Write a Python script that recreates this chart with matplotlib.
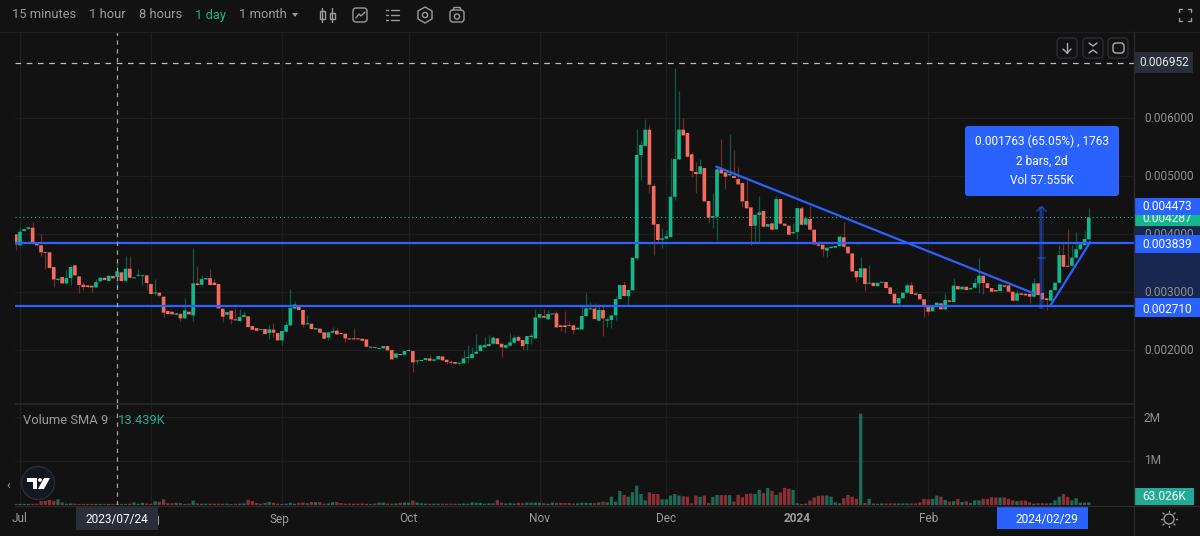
import matplotlib
matplotlib.use("Agg")
import matplotlib.pyplot as plt
from matplotlib.patches import Rectangle, FancyBboxPatch, Circle, Polygon

plt.rcParams['font.family'] = ['Roboto', 'DejaVu Sans']

# Daily candles, index 0 is 2023/06/30, prices in millionths
opens = [3994,3805,4052,4086,4109,3845,3805,3690,3684,3431,3207,3259,3149,3241,3460,3270,3126,3115,3109,3080,
    3184,3247,3190,3276,3259,3339,3195,3402,3236,3282,3276,3287,3138,2977,2989,2920,2672,2661,2609,2626,
    2546,2661,2598,3149,3126,3218,3241,3161,3138,2713,2609,2678,2529,2500,2569,2581,2414,2379,2345,2362,
    2293,2351,2293,2167,2316,2425,2713,2770,2690,2443,2454,2356,2368,2305,2213,2299,2333,2293,2282,2201,
    2201,2201,2195,2184,2040,2052,2017,2029,2069,2000,1868,1931,1920,1983,1983,1805,1810,1828,1856,1816,
    1839,1891,1833,1793,1793,1764,1770,1862,1862,1937,1983,2046,2069,2109,2201,2109,2040,2075,2126,2224,
    2172,2103,2224,2201,2558,2586,2529,2615,2632,2425,2425,2425,2425,2356,2356,2586,2701,2713,2506,2690,
    2506,2517,2598,2879,3121,2931,3029,3581,5362,5517,5799,4828,4172,3902,3920,3948,4644,5287,5799,5741,
    5374,5069,5034,5138,4569,4282,4299,5115,5063,5011,5000,4948,4879,4569,4460,4144,4328,4397,4127,4184,
    4081,4603,4178,4144,4011,4034,4443,4161,4259,4075,3822,3816,3713,3759,3765,3793,3943,3782,3667,3362,
    3254,3409,3144,3161,3103,3161,3172,3080,2971,2805,2891,2989,3115,2977,2966,2874,2747,2667,2747,2805,
    2701,2856,2828,3103,3046,3092,3046,3075,3150,3282,3150,3069,3034,3017,3115,3115,3006,2851,2977,2971,
    2966,2920,3150,2983,2891,2851,3034,3161,3638,3454,3454,3592,3736,3810,3908]
highs = [3994,4126,4086,4115,4207,3845,4000,3690,3684,3431,3230,3259,3379,3466,3466,3270,3167,3115,3109,3218,
    3247,3247,3282,3276,3494,3339,3621,3621,3253,3402,3293,3287,3138,3224,2989,2920,2672,2661,2632,2626,
    2897,2661,3753,3454,3293,3241,3391,3224,3138,2713,2655,2678,2724,2713,2678,2581,2414,2379,2362,2362,
    2431,2460,2293,2328,2500,3052,2851,2770,2690,2609,2454,2379,2368,2305,2305,2402,2374,2293,2282,2201,
    2385,2201,2195,2184,2058,2052,2035,2069,2069,2000,1943,1931,1983,2000,1983,1822,1828,1862,1914,1839,
    1897,1891,1833,1822,1793,1782,2000,2081,2046,2270,2081,2218,2253,2247,2201,2109,2086,2287,2255,2259,
    2172,2241,2299,2707,2621,2701,2690,2632,2678,2425,2678,2506,2425,2385,2776,2977,2828,2805,2787,2793,
    2575,2598,2931,3121,3196,3035,3592,5810,5621,5977,5879,4874,4172,4109,4069,5305,6856,6466,5994,5741,
    5420,5247,5293,5138,4569,4701,5161,5638,5063,5724,5448,5161,4879,4931,4460,4333,4655,4397,4172,4184,
    4661,4603,4178,4144,4184,4448,4489,4299,4489,4075,3822,3816,3765,3782,3793,3989,4201,3782,3667,3362,
    3598,3409,3466,3161,3161,3178,3172,3080,2971,2897,2989,3155,3167,2977,2966,2874,2747,2764,2816,2805,
    2977,2856,3236,3103,3092,3092,3069,3236,3580,3282,3150,3069,3034,3132,3115,3115,3006,3034,2977,2971,
    2966,3236,3150,2983,2891,3034,3161,3810,3839,4086,3810,4040,3868,4069,4443]
lows = [3724,3805,4052,4086,3833,3805,3621,3391,3414,3080,3207,3149,3138,3121,3287,2989,3035,3086,3006,3080,
    3184,3207,3190,3236,3080,3190,3178,3247,3236,3282,3121,3035,2966,2948,2937,2575,2621,2615,2609,2494,
    2546,2615,2506,3121,3126,3218,3121,3121,2718,2489,2609,2443,2512,2500,2569,2397,2351,2333,2345,2276,
    2190,2230,2167,2086,2316,2425,2713,2690,2391,2443,2362,2356,2299,2195,2172,2299,2270,2276,2144,2184,
    2184,2184,2161,2058,2040,2040,2017,2029,1994,1839,1868,1914,1920,1983,1627,1759,1810,1828,1816,1816,
    1839,1822,1759,1759,1764,1736,1770,1782,1862,1937,1983,2046,2069,2109,2103,1874,2040,2075,2126,2161,
    2000,2000,2103,2201,2558,2558,2529,2615,2391,2333,2287,2414,2276,2356,2356,2586,2701,2534,2506,2241,
    2391,2374,2517,2879,2931,2759,3029,3552,4931,5517,4701,3638,3851,3753,3920,3948,4586,5287,5701,5333,
    4989,4713,5034,4563,4195,4098,3897,5046,4776,5011,4966,4856,4471,4443,3805,3868,3868,4127,4127,4075,
    4081,4178,4144,3989,4011,3908,4161,4161,4075,3822,3799,3627,3609,3759,3765,3793,3782,3667,3356,3178,
    3254,3023,3144,3103,3103,3161,3069,2966,2805,2736,2891,2989,2966,2954,2874,2563,2604,2667,2747,2701,
    2690,2833,2828,3046,3046,3035,3046,3075,2989,2966,3069,3006,3011,3017,3092,3006,2851,2851,2954,2943,
    2805,2920,2948,2874,2690,2851,3034,3161,3437,3437,3454,3592,3736,3810,3908]
closes = [3822,4040,4086,4115,3833,3805,3684,3678,3414,3218,3230,3149,3241,3431,3287,3121,3086,3086,3080,3172,
    3247,3207,3282,3236,3356,3190,3402,3247,3253,3293,3287,3155,2966,2994,2937,2644,2621,2615,2632,2546,
    2684,2615,3149,3121,3224,3241,3121,3121,2718,2575,2655,2529,2512,2569,2603,2397,2351,2333,2362,2276,
    2356,2299,2167,2328,2431,2724,2787,2690,2437,2460,2362,2379,2299,2195,2305,2328,2270,2276,2201,2184,
    2184,2184,2161,2058,2058,2040,2035,2069,1994,1839,1943,1914,1983,2000,1787,1822,1828,1862,1816,1839,
    1897,1822,1793,1782,1764,1782,1856,1879,1931,1971,2081,2086,2103,2213,2103,2046,2086,2132,2213,2161,
    2069,2241,2247,2563,2621,2558,2621,2632,2391,2397,2397,2414,2345,2385,2586,2718,2718,2534,2690,2546,
    2529,2598,2879,3121,2931,3035,3592,5362,5535,5799,4851,4161,3897,3925,3960,4644,5293,5799,5701,5333,
    5086,5034,5167,4563,4282,4310,5115,5046,4989,5034,4966,4856,4563,4443,4138,4333,4374,4127,4172,4075,
    4603,4178,4144,3989,4034,4448,4161,4270,4075,3822,3799,3736,3765,3782,3793,3954,3782,3667,3356,3254,
    3409,3138,3161,3103,3161,3178,3069,2966,2805,2897,2989,3115,2966,2954,2874,2747,2661,2764,2816,2701,
    2862,2833,3109,3046,3092,3035,3069,3155,3282,3155,3069,3006,3011,3132,3092,3006,2851,2977,2954,2943,
    2920,3150,2948,2874,2862,3034,3161,3638,3437,3437,3592,3736,3822,3914,4287]
# Volume in thousands, one value per candle
volumes = [25,25,25,25,25,30,90,95,115,95,130,60,30,35,30,25,25,25,25,25,
    25,25,25,25,30,25,25,30,60,30,50,35,30,85,75,130,40,40,50,45,
    25,30,100,35,30,30,30,30,30,30,30,25,30,30,35,120,90,45,30,50,
    70,50,30,25,30,50,30,50,55,40,70,65,65,30,35,65,65,45,30,35,
    30,30,35,30,25,35,55,55,35,30,35,50,60,55,100,55,40,30,30,30,
    30,30,30,30,30,30,35,30,60,50,50,30,40,40,110,50,35,40,35,50,
    40,55,55,55,50,40,30,55,45,45,45,45,35,40,50,50,45,40,60,77,
    62,190,77,320,230,190,290,440,250,105,290,250,250,130,130,215,250,215,200,190,
    40,215,185,215,45,185,230,225,225,225,77,230,175,250,260,250,345,270,385,320,
    230,285,390,370,345,40,25,30,100,170,210,215,215,190,60,40,155,230,190,140,
    2080,45,140,35,30,35,35,35,35,35,35,35,35,35,60,140,130,140,215,190,
    115,77,85,140,70,85,45,105,105,140,140,175,170,170,175,140,105,92,100,100,
    60,30,40,40,38,40,105,190,250,185,105,155,55,55,63]

month_labels = ["Jul", "Aug", "Sep", "Oct", "Nov", "Dec", "2024", "Feb"]
month_bars = [1, 32, 63, 93, 124, 154, 185, 216]
price_ticks = [6000, 5000, 4000, 3000, 2000]
volume_ticks = [1000, 2000]

support_levels = [3839, 2763]
last_close = 4287
top_level = 6952
falling_trend_x = [165.9, 240.8]
falling_trend_y = [5160, 2983]
rising_trend_x = [245.0, 254.3]
rising_trend_y = [2776, 3857]
ruler_bars = [242, 244]
ruler_prices = [2710, 4473]
cross_bar = 24

BG = "#121212"
GRID = "#1e1e1e"
UP = "#10b88c"
DOWN = "#f56c5c"
BLUE = "#2962ff"
MUTED = "#9b9b9b"
FONT = 8.6
BAR_FONT = 9.3

fig = plt.figure(figsize=(12, 5.36), dpi=100, facecolor=BG)


def pane(left, top, right, bottom):
    # pixel box to an axes, y measured from the top of the image
    ax = fig.add_axes([left / 1200, 1 - bottom / 536, (right - left) / 1200, (bottom - top) / 536])
    ax.set_facecolor(BG)
    for s in ax.spines.values():
        s.set_visible(False)
    ax.set_xticks([])
    ax.set_yticks([])
    return ax


ax = pane(15, 32, 1134, 403)
ax.set_xlim(-0.17, 264.7)
ax.set_ylim(1087, 7483)
vax = pane(15, 403, 1134, 505)
vax.set_xlim(-0.17, 264.7)
vax.set_ylim(0, 2322)

# Grid
for b in month_bars:
    ax.axvline(b, color=GRID, lw=0.9, zorder=0)
    vax.axvline(b, color=GRID, lw=0.9, zorder=0)
for p in price_ticks:
    ax.axhline(p, color=GRID, lw=0.9, zorder=0)
for v in volume_ticks:
    vax.axhline(v, color=GRID, lw=0.9, zorder=0)

# Candles
bars = list(range(len(opens)))
up = [c >= o for o, c in zip(opens, closes)]
wick_colors = ["#0d5a48" if u else "#6a3029" for u in up]
body_colors = [UP if u else DOWN for u in up]
ax.vlines(bars, lows, highs, colors=wick_colors, lw=0.9, zorder=2)
body_low = [min(o, c) for o, c in zip(opens, closes)]
body_height = [max(abs(o - c), 14) for o, c in zip(opens, closes)]
ax.bar(bars, body_height, bottom=body_low, width=0.86, color=body_colors, zorder=3, snap=False)

# Volume
vol_colors = ["#1b6b58" if u else "#8c2f35" for u in up]
vax.bar(bars, volumes, width=0.78, color=vol_colors, zorder=2, snap=False)

# Drawn levels and trend lines
for level in support_levels:
    ax.axhline(level, color=BLUE, lw=1.6, zorder=5)
ax.axhline(last_close, color=UP, lw=0.8, ls=(0, (1, 2.5)), zorder=1)
ax.axhline(top_level, color="#bdbdbd", lw=0.9, ls=(0, (4.5, 4.5)), zorder=5)
ax.plot(falling_trend_x, falling_trend_y, color=BLUE, lw=1.6, zorder=5)
ax.plot(rising_trend_x, rising_trend_y, color=BLUE, lw=1.6, zorder=5)

# Ruler between two bars
ruler_x = sum(ruler_bars) / 2 - 0.2
ax.add_patch(Rectangle((ruler_x - 0.6, ruler_prices[0]), 1.2, ruler_prices[1] - ruler_prices[0],
                       color=BLUE, alpha=0.25, lw=0, zorder=4))
ax.vlines(ruler_x, ruler_prices[0], ruler_prices[1], color=BLUE, alpha=0.4, lw=1.1, zorder=5)
ax.plot([ruler_x - 1.1, ruler_x, ruler_x + 1.1], [ruler_prices[1] - 80, ruler_prices[1], ruler_prices[1] - 80],
        color=BLUE, alpha=0.55, lw=1.1, zorder=5)
ax.plot([ruler_x - 0.9, ruler_x + 0.9], [sum(ruler_prices) / 2] * 2, color=BLUE, alpha=0.55, lw=1.1, zorder=5)

# Crosshair
ax.axvline(cross_bar, color="#a4a4a4", lw=0.9, ls=(0, (3.5, 3.5)), zorder=6)
vax.axvline(cross_bar, color="#a4a4a4", lw=0.9, ls=(0, (3.5, 3.5)), zorder=6)

# Everything around the panes, in pixels of the image
ui = fig.add_axes([0, 0, 1, 1], facecolor="none")
ui.set_xlim(0, 1200)
ui.set_ylim(536, 0)
ui.axis("off")


def label(x, y, s, color=MUTED, size=FONT, ha="left", z=12, **kw):
    ui.text(x, y, s, color=color, fontsize=size, ha=ha, va="center", zorder=z, **kw)


def box(x0, y0, x1, y1, color, z=9):
    ui.add_patch(Rectangle((x0, y0), x1 - x0, y1 - y0, color=color, lw=0, zorder=z))


def round_box(x0, y0, x1, y1, face, edge="none", r=3, z=9):
    ui.add_patch(FancyBboxPatch((x0 + r, y0 + r), x1 - x0 - 2 * r, y1 - y0 - 2 * r,
                                boxstyle=f"round,pad={r},rounding_size={r}", fc=face, ec=edge, lw=1, zorder=z))


def stroke(xs, ys, color=MUTED, lw=1.0):
    ui.plot(xs, ys, color=color, lw=lw, zorder=12, solid_capstyle="round")


# Frame lines
stroke([0, 1200], [31.5, 31.5], "#1f1f1f", 1)
stroke([15, 1134], [403.5, 403.5], "#2a2a2a", 1.2)
stroke([15, 1200], [505.5, 505.5], "#2a2a2a", 1)
stroke([1134, 1134], [32, 536], "#2a2a2a", 1)

# Toolbar
label(12, 15, "15 minutes", size=BAR_FONT)
label(89, 15, "1 hour", size=BAR_FONT)
label(139, 15, "8 hours", size=BAR_FONT)
label(195, 15, "1 day", color=UP, size=BAR_FONT)
label(239, 15, "1 month", size=BAR_FONT)
ui.add_patch(Polygon([[292, 13], [298, 13], [295, 17]], color=MUTED, lw=0, zorder=12))
# candle style icon
stroke([322, 322], [8, 22]); stroke([332, 332], [8, 22])
ui.add_patch(Rectangle((319.5, 11), 5, 8, fc="none", ec=MUTED, lw=1, zorder=12))
ui.add_patch(Rectangle((329.5, 13), 5, 6, fc="none", ec=MUTED, lw=1, zorder=12))
# indicators icon
round_box(353, 8, 367, 22, "none", MUTED, r=3, z=12)
stroke([356, 359, 361, 365], [18, 14, 16, 12])
# checklist icon
for yy in [10, 15, 20]:
    stroke([386, 388], [yy, yy]); stroke([391, 399], [yy, yy])
# settings icon
ui.add_patch(Polygon([[425, 7], [432, 11], [432, 19], [425, 23], [418, 19], [418, 11]], fc="none", ec=MUTED, lw=1, zorder=12))
ui.add_patch(Circle((425, 15), 2.6, fc="none", ec=MUTED, lw=1, zorder=12))
# camera icon
round_box(450, 10, 464, 22, "none", MUTED, r=3, z=12)
ui.add_patch(Circle((457, 16.5), 2.6, fc="none", ec=MUTED, lw=1, zorder=12))
stroke([453, 454, 460, 461], [10, 7.5, 7.5, 10])
# fullscreen corners
for cx, cy, dx, dy in [(1179, 9, 1, 1), (1191, 9, -1, 1), (1179, 21, 1, -1), (1191, 21, -1, -1)]:
    stroke([cx + 3 * dx, cx, cx], [cy, cy, cy + 3 * dy])

# Pane buttons
for x0 in [1057, 1083, 1108]:
    round_box(x0, 38, x0 + 20, 58, BG, "#2b2e36", r=4, z=10)
stroke([1067, 1067], [43, 53], "#b0b0b0")
stroke([1063, 1067, 1071], [49, 53, 49], "#b0b0b0")
stroke([1089, 1093, 1097], [43, 46, 43], "#b0b0b0")
stroke([1089, 1093, 1097], [53, 50, 53], "#b0b0b0")
round_box(1113, 43, 1124, 53, "none", "#b0b0b0", r=3, z=12)

# Price scale, the later boxes cover parts of the tick labels as in the app
box(1134.5, 226, 1200, 298, "#172750", z=8)
for p in price_ticks:
    y = 118 + (6000 - p) / 1000 * 58
    label(1144, y, f"0.{p:06d}", color="#8f8f8f", z=8.5)
box(1134.5, 52, 1193, 73, "#2a2e39")
label(1164, 62.5, "0.006952", color="#e8e8e8", ha="center")
box(1134.5, 215, 1200, 226, UP)
label(1167, 218.5, "0.004287", color="white", ha="center", z=9.5)
box(1134.5, 198, 1200, 215, BLUE, z=10)
label(1167, 206.5, "0.004473", color="white", ha="center")
box(1134.5, 235, 1200, 253, BLUE)
label(1167, 244, "0.003839", color="white", ha="center")
box(1134.5, 298, 1200, 317, BLUE)
label(1167, 309.5, "0.002710", color="white", ha="center")

# Volume scale and legend
label(1144, 419, "2M", color="#8f8f8f")
label(1144, 461, "1M", color="#8f8f8f")
box(1134.5, 488, 1194, 505, "#22ab94")
label(1164, 496.5, "63.026K", color="white", ha="center")
label(23, 420, "Volume SMA 9", size=BAR_FONT)
label(118, 420, "13.439K", color="#22ab94", size=BAR_FONT)

# Ruler info box
round_box(965, 126, 1119, 196, BLUE, r=3, z=11)
label(1042, 141, "0.001763 (65.05%) , 1763", color="white", ha="center")
label(1042, 161, "2 bars, 2d", color="white", ha="center")
label(1042, 181, "Vol 57.555K", color="white", ha="center")

# Time axis
for name, x in zip(month_labels, [20, 150, 279, 408, 539, 666, 797, 929]):
    label(x, 519, name, ha="center", z=10, weight="bold" if name == "2024" else "normal")
box(76, 505.5, 158, 530, "#2a2e39", z=11)
label(117, 519, "2023/07/24", color="white", ha="center")
box(997, 505.5, 1088, 529, BLUE)
label(1047, 519, "2024/02/29", color="white", ha="center")
ui.add_patch(Circle((1169, 519), 5, fc="none", ec=MUTED, lw=1, zorder=12))
for dx, dy in [(0, -7), (0, 7), (-7, 0), (7, 0), (-5, -5), (5, 5), (-5, 5), (5, -5)]:
    stroke([1169 + dx, 1169 + dx * 1.2], [519 + dy, 519 + dy * 1.2])

# Logo
ui.add_patch(Circle((38, 483), 16.5, fc="#131722", ec="#2a2e39", lw=1, zorder=10))
ui.add_patch(Polygon([[27, 478], [37, 478], [37, 489], [33, 489], [33, 482], [27, 482]], color="white", lw=0, zorder=12))
ui.add_patch(Circle((40, 480), 1.9, color="white", lw=0, zorder=12))
ui.add_patch(Polygon([[44, 478], [50, 478], [44, 489], [38, 489]], color="white", lw=0, zorder=12))
label(8, 485, "‹", size=9, ha="center")

fig.savefig("out.png", dpi=100, facecolor=BG)
